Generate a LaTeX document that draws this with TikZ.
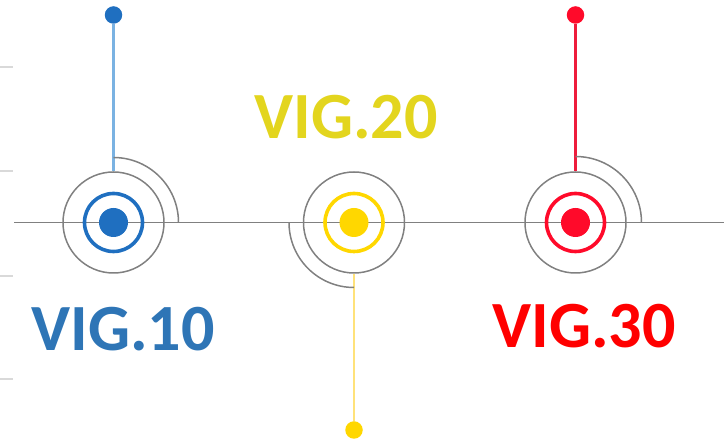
\documentclass[tikz,border=0pt]{standalone}
\usepackage{fontspec}
\setmainfont{Carlito}
\definecolor{blueC}{HTML}{1F6FC0}
\definecolor{blueL}{HTML}{7AB2E2}
\definecolor{blueT}{HTML}{2E75B6}
\definecolor{yelC}{HTML}{FFD700}
\definecolor{yelL}{HTML}{FFE27A}
\definecolor{yelT}{HTML}{E3D51E}
\definecolor{redC}{HTML}{FF0A2A}
\definecolor{redL}{HTML}{EE1C3C}
\definecolor{redT}{HTML}{FF0000}
\definecolor{grayL}{HTML}{808080}
\definecolor{tickC}{HTML}{D9D9D9}
\tikzset{
  outer/.style={circle, draw=grayL, line width=1.5pt, minimum size=101pt, inner sep=0pt},
  ring/.style={circle, draw=#1, line width=3.6pt, minimum size=58pt, inner sep=0pt},
  core/.style={circle, fill=#1, minimum size=29pt, inner sep=0pt},
  pin/.style={circle, fill=#1, minimum size=17.5pt, inner sep=0pt},
  stem/.style={draw=#1, line width=2.2pt},
  garc/.style={draw=grayL, line width=1.5pt},
  label/.style={font=\bfseries\fontsize{66}{66}\selectfont, text=#1, anchor=base, inner sep=0pt},
  tick/.style={draw=tickC, line width=1.3pt}
}
\begin{document}
\begin{tikzpicture}[x=1pt,y=1pt]
\useasboundingbox (0,0) rectangle (724,439);
% ticks
\foreach \ty in {372,268,163,60} { \draw[tick] (0,\ty) -- (12.5,\ty); }
% axis
\coordinate (axL) at (14,216.5);
\coordinate (axR) at (724,216.5);
\draw[draw=grayL, line width=1.9pt] (axL) -- (axR);
% blue
\node[outer] (bO) at (113.5,216.5) {};
\node[ring=blueC] (bR) at (113.5,216.5) {};
\node[core=blueC] (bC) at (113.5,216.5) {};
\node[pin=blueC] (bP) at (113.5,424) {};
\draw[stem=blueL] (bP) -- (bO.north);
\draw[garc] (113.5,281.5) arc (90:0:65);
\node[label=blueT] (bT) at (123,88) {VIG.10};
% yellow
\node[outer] (yO) at (354,216.5) {};
\node[ring=yelC] (yR) at (354,216.5) {};
\node[core=yelC] (yC) at (354,216.5) {};
\node[pin=yelC] (yP) at (354,9) {};
\draw[stem=yelL] (yO.south) -- (yP);
\draw[garc] (289,216.5) arc (180:270:65);
\node[label=yelT] (yT) at (346,300) {VIG.20};
% red
\node[outer] (rO) at (575.5,216.5) {};
\node[ring=redC] (rR) at (575.5,216.5) {};
\node[core=redC] (rC) at (575.5,216.5) {};
\node[pin=redC] (rP) at (575.5,424) {};
\draw[stem=redL] (rP) -- (rO.north);
\draw[garc] (575.5,282.5) arc (90:0:66);
\node[label=redT] (rT) at (584,91) {VIG.30};
\end{tikzpicture}
\end{document}
